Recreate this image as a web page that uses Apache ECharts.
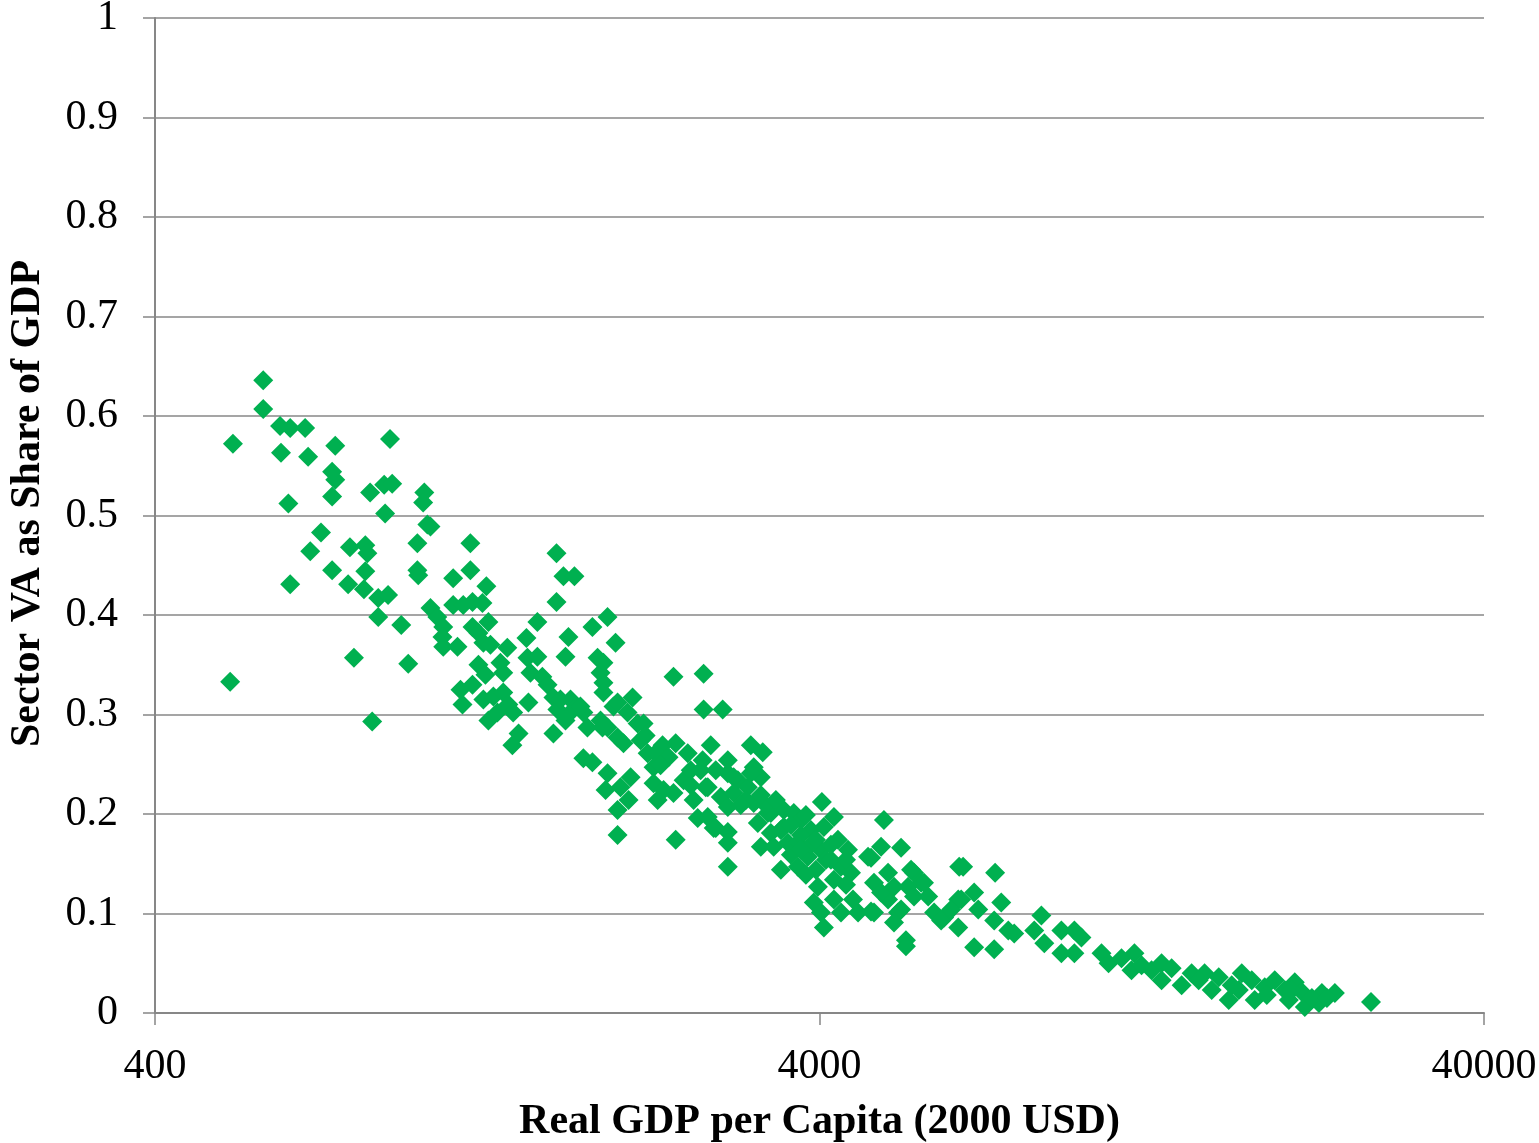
<!DOCTYPE html>
<html>
<head>
<meta charset="utf-8">
<script src="https://cdn.jsdelivr.net/npm/echarts@6/dist/echarts.min.js"></script>
<style>html,body{margin:0;padding:0;background:#fff;}#c{width:1539px;height:1143px;}</style>
</head>
<body>
<div id="c"></div>
<script>
const xAxisTitle = 'Real GDP per Capita (2000 USD)';
const yAxisTitle = 'Sector VA as Share of GDP';
const xTickValues = [400, 4000, 40000];
const gdpPerCapita = [
582,582,617,639,673,524,903,619,747,680,
739,747,739,843,885,910,1017,1013,635,888,
1028,1039,993,711,685,786,829,835,739,829,
993,996,639,781,825,867,897,1124,1039,1064,
1086,1083,1086,1141,1124,867,939,797,962,519,
1153,1161,849,1193,1193,1261,1608,1647,1711,1608,
1164,1202,1244,1270,1202,1227,1248,1279,1356,1505,
1449,1676,1821,1919,1973,1227,1257,1324,1337,1454,
1505,1469,1531,1559,1659,1854,1892,1873,1892,1892,
1202,1248,1292,1337,1361,1384,1410,1380,1459,1270,
1310,1591,1613,1688,1705,1591,1659,1765,1790,1873,
1959,1919,2093,2057,2130,2174,1987,2028,1765,1821,
1919,2079,2205,2251,2412,2677,1987,1630,1747,1886,
2677,2860,2322,2430,2534,2267,2371,2744,2668,2911,
3153,3286,1906,2007,2064,2251,2330,2283,2412,2498,
2586,2716,2911,3014,3121,3185,3264,2841,2911,3185,
3379,3535,3659,1987,2623,1987,2430,2772,2911,2911,
3230,3379,3413,3585,3712,3264,2971,3153,2697,2971,
4033,5001,2716,2792,2911,3344,3535,3750,3499,3882,
4061,4205,4264,4020,3843,3712,4415,4309,4205,4461,
3978,3922,4020,4061,4205,4492,4572,4309,4733,4951,
5307,4831,5073,4831,5073,5252,5438,5550,5688,5829,
5950,6160,6469,6469,5397,6491,4782,5494,5746,5550,
4951,5178,4782,5178,5307,5397,6580,7351,6097,6313,
6536,6836,6934,7509,7327,7695,7854,6836,7327,8629,
8419,8717,9249,9674,9914,9249,9674,10627,10890,11913,
11793,12641,13088,13088,13550,14029,14524,15191,15569,15954,
16518,17279,17102,17889,18072,18710,19371,20055,20343,20764,
21280,21497,22577,22810,23857,27041,
2152,2560,2650,3099,3750,3882,3622,4091,3951,4162,
4385,3816,3499,3321,11391,12210,14883,16688,18847,20554,
22032,23212,
3439,3622,3750,3951,4162,4385,3816,3264,3045,2560,
2792,2306,2190
];
const sectorShare = [
0.636,0.607,0.590,0.588,0.588,0.572,0.577,0.563,0.570,0.559,
0.544,0.536,0.519,0.523,0.531,0.532,0.523,0.513,0.512,0.502,
0.491,0.489,0.472,0.483,0.464,0.468,0.470,0.462,0.445,0.444,
0.445,0.440,0.431,0.431,0.426,0.417,0.420,0.437,0.407,0.398,
0.388,0.378,0.368,0.368,0.410,0.398,0.390,0.357,0.351,0.333,
0.325,0.310,0.293,0.472,0.445,0.429,0.462,0.439,0.439,0.413,
0.410,0.413,0.412,0.393,0.388,0.382,0.372,0.370,0.367,0.393,
0.377,0.378,0.388,0.398,0.372,0.350,0.340,0.352,0.342,0.357,
0.358,0.342,0.338,0.330,0.358,0.357,0.352,0.342,0.332,0.322,
0.330,0.315,0.318,0.322,0.310,0.302,0.281,0.269,0.312,0.294,
0.302,0.317,0.305,0.315,0.305,0.281,0.294,0.302,0.287,0.294,
0.308,0.287,0.317,0.302,0.291,0.291,0.277,0.271,0.256,0.252,
0.241,0.237,0.261,0.247,0.338,0.341,0.312,0.315,0.308,0.287,
0.305,0.305,0.269,0.271,0.261,0.261,0.257,0.269,0.254,0.254,
0.269,0.262,0.224,0.227,0.214,0.231,0.224,0.214,0.221,0.234,
0.214,0.227,0.241,0.234,0.227,0.247,0.237,0.217,0.207,0.211,
0.201,0.204,0.201,0.204,0.196,0.179,0.174,0.186,0.182,0.171,
0.191,0.181,0.167,0.171,0.171,0.167,0.237,0.241,0.227,0.221,
0.212,0.194,0.197,0.186,0.147,0.201,0.187,0.194,0.144,0.184,
0.187,0.197,0.174,0.164,0.157,0.147,0.164,0.147,0.134,0.141,
0.127,0.111,0.101,0.086,0.114,0.114,0.101,0.101,0.157,0.167,
0.166,0.131,0.141,0.101,0.114,0.101,0.127,0.141,0.131,0.117,
0.101,0.096,0.114,0.086,0.073,0.147,0.156,0.144,0.131,0.117,
0.121,0.127,0.102,0.091,0.104,0.067,0.147,0.141,0.093,0.104,
0.114,0.121,0.104,0.111,0.093,0.083,0.080,0.066,0.064,0.098,
0.083,0.070,0.083,0.083,0.076,0.060,0.060,0.060,0.050,0.060,
0.043,0.043,0.050,0.033,0.045,0.028,0.040,0.040,0.023,0.036,
0.013,0.040,0.023,0.033,0.013,0.026,0.033,0.023,0.013,0.031,
0.021,0.006,0.010,0.020,0.020,0.011,
0.274,0.244,0.244,0.214,0.179,0.169,0.159,0.154,0.144,0.154,
0.129,0.139,0.184,0.209,0.055,0.048,0.033,0.028,0.018,0.023,
0.015,0.015,
0.214,0.189,0.164,0.174,0.169,0.154,0.199,0.219,0.209,0.229,
0.244,0.249,0.279
];

const points = gdpPerCapita.map((g, i) => [g, sectorShare[i]]);
const FONT = '"Liberation Serif", "Times New Roman", serif';
const GRAY = '#878787';

const chart = echarts.init(document.getElementById('c'), null, {renderer: 'canvas'});
chart.setOption({
  animation: false,
  backgroundColor: '#ffffff',
  grid: {left: 155, right: 55, top: 18, bottom: 130, containLabel: false, outerBoundsMode: 'none'},
  xAxis: {
    type: 'log',
    logBase: 10,
    min: xTickValues[0],
    max: xTickValues[xTickValues.length - 1],
    name: xAxisTitle,
    nameLocation: 'middle',
    nameGap: 88,
    nameTextStyle: {fontFamily: FONT, fontSize: 42, fontWeight: 'bold', color: '#000'},
    axisLine: {show: true, lineStyle: {color: GRAY, width: 2}},
    axisTick: {show: true, length: 12, customValues: xTickValues, lineStyle: {color: GRAY, width: 1.5}},
    axisLabel: {
      fontFamily: FONT, fontSize: 42, color: '#000', margin: 33,
      customValues: xTickValues,
      formatter: v => String(Number(Number(v).toPrecision(2)))
    },
    splitLine: {show: false},
    minorTick: {show: false}
  },
  yAxis: {
    type: 'value',
    min: 0,
    max: 1,
    interval: 0.1,
    name: yAxisTitle,
    nameLocation: 'middle',
    nameRotate: 90,
    nameGap: 106,
    nameTextStyle: {fontFamily: FONT, fontSize: 42, fontWeight: 'bold', color: '#000', padding: [0, 0, 0, 24]},
    axisLine: {show: true, lineStyle: {color: GRAY, width: 2}},
    axisTick: {show: true, length: 12, lineStyle: {color: GRAY, width: 1.5}},
    axisLabel: {fontFamily: FONT, fontSize: 42, color: '#000', margin: 37,
      formatter: v => String(Math.round(v * 10) / 10)},
    splitLine: {show: true, lineStyle: {color: GRAY, width: 1.5}}
  },
  series: [{
    type: 'scatter',
    data: points,
    symbol: 'diamond',
    symbolSize: 20,
    itemStyle: {color: '#00B050', opacity: 1}
  }]
});
</script>
</body>
</html>
